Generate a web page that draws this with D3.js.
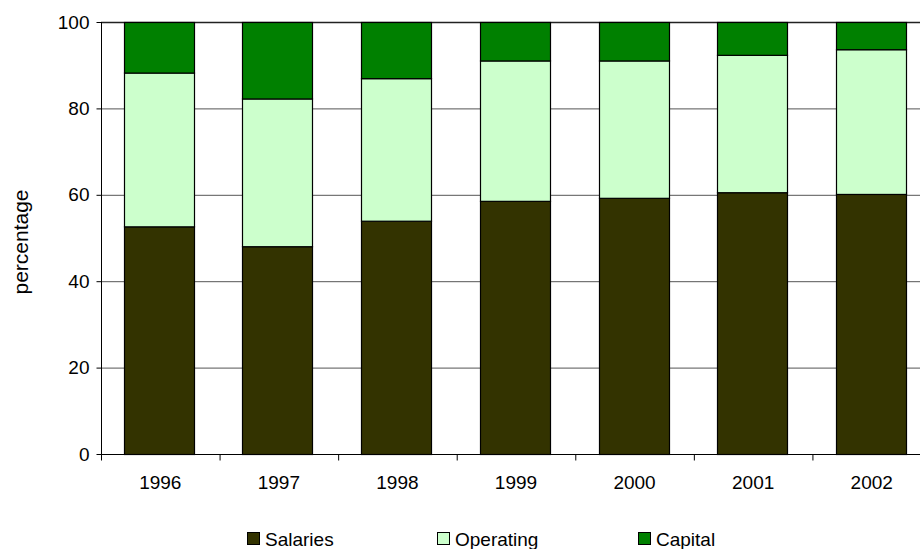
<!DOCTYPE html>
<html><head><meta charset="utf-8">
<script src="https://cdn.jsdelivr.net/npm/d3@7"></script>
<style>body{margin:0;background:#fff;} svg{display:block;font-family:Arial,"Liberation Sans",sans-serif;}</style>
</head><body>
<script>
const years = ["1996","1997","1998","1999","2000","2001","2002"];
const salaries  = [52.7, 48.1, 54.0, 58.6, 59.3, 60.6, 60.2];
const operating = [35.6, 34.2, 33.0, 32.5, 31.8, 31.8, 33.5];
const capital   = [11.7, 17.7, 13.0,  8.9,  8.9,  7.6,  6.3];
const seriesNames = ["Salaries","Operating","Capital"];
const colors = ["#333300","#CCFFCC","#008000"];
const yTicks = [0,20,40,60,80,100];

(function(){
const W = 920, H = 549;
const svg = d3.select("body").append("svg").attr("width",W).attr("height",H);
const pL = 101, pR = 931, pT = 22, pB = 454;

const x = d3.scaleBand().domain(years).range([pL,pR]).paddingInner(0.41).paddingOuter(0.2);
const xb = d3.scaleBand().domain(years).range([pL,pR]);
const y = d3.scaleLinear().domain([0,100]).range([pB,pT]);

// gridlines
svg.append("g").selectAll("line").data(yTicks.filter(t=>t>0)).join("line")
  .attr("x1",pL).attr("x2",pR)
  .attr("y1",d=>y(d)+0.5).attr("y2",d=>y(d)+0.5)
  .attr("stroke",d=>d===100?"#222":"#555").attr("stroke-width",d=>d===100?1.5:1);

const table = years.map((yr,i)=>({year:yr, Salaries:salaries[i], Operating:operating[i], Capital:capital[i]}));
const stack = d3.stack().keys(seriesNames)(table);

svg.append("g").selectAll("g").data(stack).join("g")
  .attr("fill",(d,i)=>colors[i])
  .selectAll("rect").data(d=>d).join("rect")
  .attr("x",d=>Math.round(x(d.data.year))-0.5)
  .attr("width",Math.round(x.bandwidth()))
  .attr("y",d=>y(d[1])+0.5)
  .attr("height",d=>y(d[0])-y(d[1]))
  .attr("stroke","#000").attr("stroke-width",1.2);

// y axis
const yAxis = svg.append("g").attr("transform",`translate(${pL+0.5},0)`)
  .call(d3.axisLeft(y).tickValues(yTicks).tickSize(5).tickPadding(7));
yAxis.select(".domain").attr("stroke","#000").attr("d",`M0,${pT}V${pB}`);
yAxis.selectAll(".tick line").attr("stroke","#000");
yAxis.selectAll("text").attr("font-size",19).attr("fill","#000").attr("font-family","Arial, 'Liberation Sans', sans-serif");

// x axis
const xg = svg.append("g").attr("transform",`translate(0,${pB+0.5})`);
xg.append("line").attr("x1",pL).attr("x2",pR).attr("stroke","#000");
xg.selectAll("line.tk").data(years.concat(["end"])).join("line").attr("class","tk")
  .attr("x1",(d,i)=>pL+i*xb.step()+0.5).attr("x2",(d,i)=>pL+i*xb.step()+0.5)
  .attr("y1",0).attr("y2",6).attr("stroke","#000");
xg.selectAll("text").data(years).join("text")
  .attr("x",d=>xb(d)+xb.bandwidth()/2).attr("y",34.5)
  .attr("text-anchor","middle").attr("font-size",19).attr("fill","#000").text(d=>d);

// y title
svg.append("text").attr("transform","translate(28,242) rotate(-90)")
  .attr("text-anchor","middle").attr("font-size",21).attr("fill","#000").text("percentage");

// legend
const legX = [247,437,638];
const lg = svg.append("g").selectAll("g").data(seriesNames).join("g")
  .attr("transform",(d,i)=>`translate(${legX[i]},532)`);
lg.append("rect").attr("x",0.5).attr("y",0.5).attr("width",12).attr("height",12)
  .attr("fill",(d,i)=>colors[i]).attr("stroke","#000");
lg.append("text").attr("x",18).attr("y",13.5).attr("font-size",19).attr("fill","#000").text(d=>d);
})();
</script>
</body></html>
